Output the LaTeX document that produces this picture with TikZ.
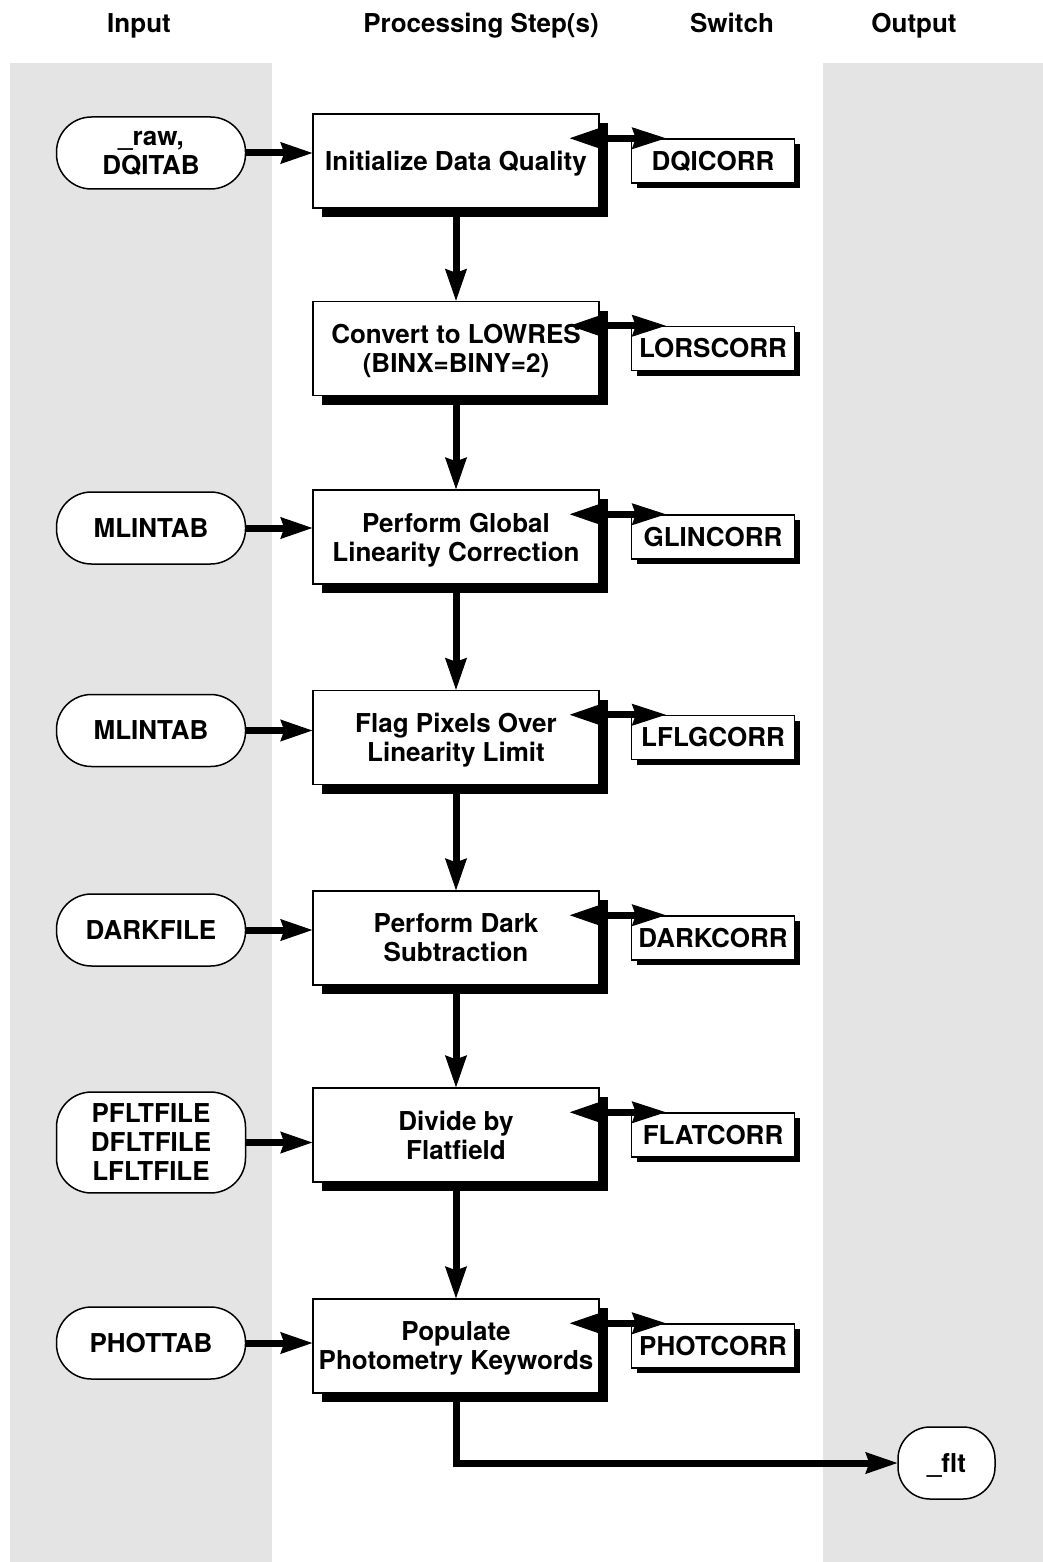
\documentclass[tikz,border=0pt]{standalone}
\usepackage{fontspec}
\setmainfont{TeX Gyre Heros}
\usepackage{tikz}
\usetikzlibrary{positioning,arrows.meta,shadows}

\definecolor{bandgray}{gray}{0.895}

\begin{document}
\begin{tikzpicture}[
  x=0.5pt, y=-0.5pt,
  font=\fontsize{13}{14.5}\selectfont\bfseries,
  procbox/.style={draw, line width=0.75pt, fill=white, align=center, minimum width=143pt, minimum height=47pt, inner xsep=1pt, text depth=0pt,
    drop shadow={shadow xshift=4.5pt, shadow yshift=-4.5pt, fill=black, opacity=1}},
  switchbox/.style={draw, line width=0.75pt, fill=white, minimum width=81.5pt, minimum height=22pt, inner xsep=2pt,
    drop shadow={shadow xshift=2.5pt, shadow yshift=-2.5pt, fill=black, opacity=1}},
  filebox/.style={draw, line width=0.75pt, fill=white, rounded corners=17.5pt, align=center, minimum width=94.5pt, minimum height=36pt, inner ysep=6pt, text depth=0pt},
  head/.style={anchor=base},
  arr/.style={-{Stealth[length=16pt, width=11pt, inset=2pt, line width=0.5pt]}, line width=3.5pt},
  dblarr/.style={{Stealth[length=16pt, width=11pt, inset=2pt, line width=0.5pt]}-{Stealth[length=17pt, width=11pt, inset=2pt, line width=0.5pt]}, line width=3.5pt}]

\useasboundingbox (0,0) rectangle (1043,1562);
\fill[bandgray] (10,63) rectangle (272,1562);
\fill[bandgray] (823,63) rectangle (1043,1562);

\node[head] (hin) at (139,33) {Input};
\node[head] (hproc) at (481,33) {Processing Step(s)};
\node[head] (hsw) at (732,33) {Switch};
\node[head] (hout) at (914,33) {Output};

\node[procbox] (dqi) at (456,161) {Initialize Data Quality};
\node[procbox, below=46pt of dqi] (lores) {Convert to LOWRES\\(BINX=BINY=2)};
\node[procbox, below=46.5pt of lores] (glin) {Perform Global\\Linearity Correction};
\node[procbox, below=52.5pt of glin] (lflg) {Flag Pixels Over\\Linearity Limit};
\node[procbox, below=52.5pt of lflg] (dark) {Perform Dark\\Subtraction};
\node[procbox, below=50.75pt of dark] (flat) {Divide by\\Flatfield};
\node[procbox, below=57.75pt of flat] (phot) {Populate\\Photometry Keywords};

\node[switchbox, right=15.5pt of dqi] (dqicorr) {DQICORR};
\node[switchbox, right=15.5pt of lores] (lorscorr) {LORSCORR};
\node[switchbox, right=15.5pt of glin] (glincorr) {GLINCORR};
\node[switchbox, right=15.5pt of lflg] (lflgcorr) {LFLGCORR};
\node[switchbox, right=15.5pt of dark] (darkcorr) {DARKCORR};
\node[switchbox, right=15.5pt of flat] (flatcorr) {FLATCORR};
\node[switchbox, right=15.5pt of phot] (photcorr) {PHOTCORR};

\node[filebox, left=33pt of dqi, yshift=4pt] (rawin) {\_raw,\\DQITAB};
\node[filebox, left=33pt of glin, yshift=4.5pt] (mlin1) {MLINTAB};
\node[filebox, left=33pt of lflg, yshift=3.5pt] (mlin2) {MLINTAB};
\node[filebox, left=33pt of dark, yshift=4pt] (darkin) {DARKFILE};
\node[filebox, left=33pt of flat, yshift=-3.75pt] (flatin) {PFLTFILE\\DFLTFILE\\LFLTFILE};
\node[filebox, left=33pt of phot, yshift=1.5pt] (photin) {PHOTTAB};

\node[filebox, minimum width=48.5pt, rounded corners=16pt] (flt) at (946.5,1463) {\_flt};

\draw[arr] (dqi) -- (lores);
\draw[arr] (lores) -- (glin);
\draw[arr] (glin) -- (lflg);
\draw[arr] (lflg) -- (dark);
\draw[arr] (dark) -- (flat);
\draw[arr] (flat) -- (phot);

\draw[arr] (rawin) -- (rawin -| dqi.west);
\draw[arr] (mlin1) -- (mlin1 -| glin.west);
\draw[arr] (mlin2) -- (mlin2 -| lflg.west);
\draw[arr] (darkin) -- (darkin -| dark.west);
\draw[arr] (flatin) -- (flatin -| flat.west);
\draw[arr] (photin) -- (photin -| phot.west);

\draw[dblarr] ([xshift=-15pt]dqi.east |- dqicorr.north) -- ([xshift=17.5pt]dqicorr.north west);
\draw[dblarr] ([xshift=-15pt]lores.east |- lorscorr.north) -- ([xshift=17.5pt]lorscorr.north west);
\draw[dblarr] ([xshift=-15pt]glin.east |- glincorr.north) -- ([xshift=17.5pt]glincorr.north west);
\draw[dblarr] ([xshift=-15pt]lflg.east |- lflgcorr.north) -- ([xshift=17.5pt]lflgcorr.north west);
\draw[dblarr] ([xshift=-15pt]dark.east |- darkcorr.north) -- ([xshift=17.5pt]darkcorr.north west);
\draw[dblarr] ([xshift=-15pt]flat.east |- flatcorr.north) -- ([xshift=17.5pt]flatcorr.north west);
\draw[dblarr] ([xshift=-15pt]phot.east |- photcorr.north) -- ([xshift=17.5pt]photcorr.north west);

\draw[arr] (phot.south) |- (flt);
\end{tikzpicture}
\end{document}
